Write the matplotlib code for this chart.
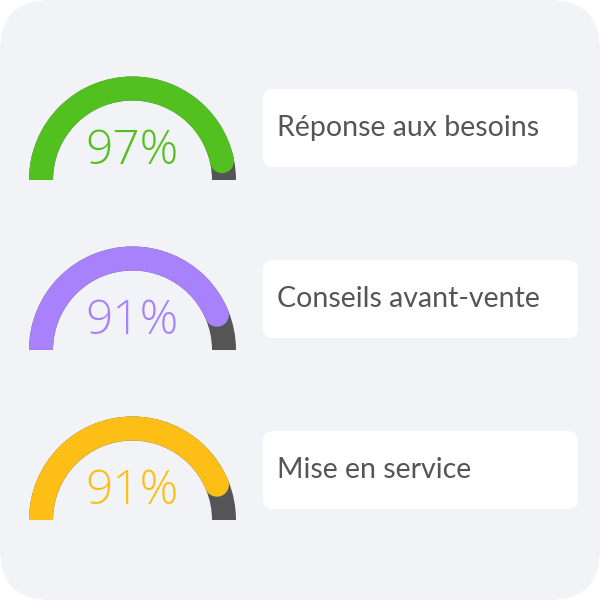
import numpy as np
import matplotlib.pyplot as plt
from matplotlib.patches import Wedge, Circle, FancyBboxPatch

labels = ["Réponse aux besoins", "Conseils avant-vente", "Mise en service"]
values = [97, 91, 91]
colors = ["#52c11f", "#a882fc", "#fdbf16"]

bg_arc = "#555555"
text_col = "#555555"

fig = plt.figure(figsize=(6, 6), dpi=100)
fig.patch.set_facecolor("white")
ax = fig.add_axes([0, 0, 1, 1])
ax.set_xlim(0, 600)
ax.set_ylim(600, 0)
ax.axis("off")

# panel background
ax.add_patch(FancyBboxPatch((0, 0), 600, 600, boxstyle="round,pad=0,rounding_size=50",
                            fc="#f1f3f7", ec="none"))

cx = 132.5
r_out = 103.5
width = 24
r_mid = r_out - width / 2
cap_pull = 6.5  # degrees the round cap is pulled back

for i, (lab, val, col) in enumerate(zip(labels, values, colors)):
    cy = 180 + 170 * i
    # y axis is inverted, so angles are measured clockwise -> use negative
    ax.add_patch(Wedge((cx, cy), r_out, 180, 360, width=width, fc=bg_arc, ec="none"))
    end = (1 - val / 100) * 180 + cap_pull
    ax.add_patch(Wedge((cx, cy), r_out, 180, 360 - end, width=width, fc=col, ec="none"))
    a = np.deg2rad(end)
    ax.add_patch(Circle((cx + r_mid * np.cos(a), cy - r_mid * np.sin(a)), width / 2,
                        fc=col, ec="none"))
    ax.text(cx, cy - 16, f"{val}%", color=col, fontsize=34.5, family="Open Sans",
            fontweight="light", ha="center", va="baseline")

    by = 89 + 171 * i
    ax.add_patch(FancyBboxPatch((263, by), 315, 78, boxstyle="round,pad=0,rounding_size=10",
                                fc="white", ec="none"))
    ax.text(277, by + 39, lab, color=text_col, fontsize=20.5, family="Lato",
            ha="left", va="center")

fig.savefig("out.png", dpi=100)
